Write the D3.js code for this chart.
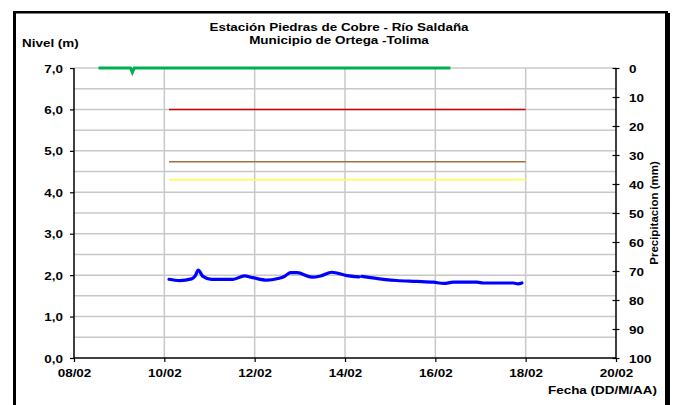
<!DOCTYPE html>
<html>
<head>
<meta charset="utf-8">
<script src="https://cdn.jsdelivr.net/npm/d3@7/dist/d3.min.js"></script>
<style>
  html, body { margin: 0; padding: 0; background: #fff; }
  svg { display: block; }
  text { font-family: "Liberation Sans", Arial, sans-serif; font-weight: bold; fill: #000; }
</style>
</head>
<body>
<svg id="chart" width="676" height="405"></svg>
<script>
// ---------- DATA ----------
const titleLines = ["Estación Piedras de Cobre  - Río Saldaña", "Municipio de Ortega -Tolima"];
const leftAxisTitle = "Nivel (m)";
const rightAxisTitle = "Precipitacion (mm)";
const xAxisTitle = "Fecha (DD/M/AA)";

const xDomain = ["08/02 00:00", "20/02 00:00"];
const xTickDates = ["08/02 00:00", "10/02 00:00", "12/02 00:00", "14/02 00:00", "16/02 00:00", "18/02 00:00", "20/02 00:00"];
const levelTicks = [0, 1, 2, 3, 4, 5, 6, 7];
const levelGrid = [0.5, 1, 1.5, 2, 2.5, 3, 3.5, 4, 4.5, 5, 5.5, 6, 6.5, 7];
const precipTicks = [0, 10, 20, 30, 40, 50, 60, 70, 80, 90, 100];

// water level (m); null = gap in record
const levelTimes = ["10/02 02:30", "10/02 08:00", "10/02 14:30", "10/02 16:30", "10/02 18:00", "10/02 20:30",
  "11/02 01:00", "11/02 12:30", "11/02 18:30", "11/02 23:00", "12/02 06:30", "12/02 12:30", "12/02 15:30",
  "12/02 19:00", "12/02 22:30", "13/02 06:30", "13/02 11:00", "13/02 17:00", "14/02 01:00", "14/02 07:30",
  "14/02 08:15", "14/02 09:00", "14/02 20:30", "15/02 03:30", "15/02 14:00", "15/02 23:00", "16/02 04:30",
  "16/02 09:30", "16/02 22:00", "17/02 01:30", "17/02 17:30", "17/02 20:00", "17/02 22:00"];
const levelValues = [1.90, 1.87, 1.91, 1.99, 2.12, 1.97,
  1.90, 1.90, 1.98, 1.94, 1.88, 1.92, 1.96,
  2.06, 2.06, 1.95, 1.98, 2.07, 1.99, 1.96,
  null, 1.97, 1.90, 1.87, 1.85, 1.83, 1.80,
  1.83, 1.83, 1.81, 1.81, 1.79, 1.81];

// precipitation (mm)
const precipTimes = ["08/02 13:00", "09/02 06:00", "09/02 07:00", "09/02 08:00", "16/02 08:00"];
const precipValues = [0, 0, 1.5, 0, 0];

// alert thresholds (m)
const thresholdTimes = ["10/02 02:30", "18/02 00:00"];
const thresholdNames = ["roja", "naranja", "amarilla"];
const thresholdValues = [6.0, 4.74, 4.30];
const thresholdColors = ["#d00000", "#a0703c", "#ffff40"];

// ---------- CHART ----------
const parse = d3.timeParse("%d/%m %H:%M");
const svg = d3.select("#chart");
const FS = 11.5, SX = 1.17;

const pL = 74, pR = 616, pT = 68, pB = 358;
const x = d3.scaleTime().domain(xDomain.map(parse)).range([pL, pR]);
const yL = d3.scaleLinear().domain([0, 7]).range([pB, pT]);
const yR = d3.scaleLinear().domain([0, 100]).range([pT, pB]);

function label(str, px, py, anchor) {
  return svg.append("text")
    .attr("transform", `translate(${px},${py}) scale(${SX},1)`)
    .attr("text-anchor", anchor)
    .style("font-size", FS + "px")
    .text(str);
}

// frame
svg.append("rect").attr("x", 13).attr("y", 11).attr("width", 3).attr("height", 394).attr("fill", "#000");
svg.append("rect").attr("x", 13).attr("y", 11).attr("width", 655).attr("height", 2.5).attr("fill", "#000");
svg.append("rect").attr("x", 665).attr("y", 13).attr("width", 5).attr("height", 392).attr("fill", "#000");

// grid
svg.append("g").selectAll("line").data(levelGrid).join("line")
  .attr("x1", pL).attr("x2", pR)
  .attr("y1", d => yL(d)).attr("y2", d => yL(d))
  .attr("stroke", "#c8c8c8").attr("stroke-width", 1.5);
svg.append("g").selectAll("line").data(xTickDates.slice(1, -1).map(parse)).join("line")
  .attr("x1", d => x(d)).attr("x2", d => x(d))
  .attr("y1", pT).attr("y2", pB)
  .attr("stroke", "#c8c8c8").attr("stroke-width", 1.5);

// thresholds
thresholdValues.forEach((v, i) => {
  svg.append("line")
    .attr("x1", x(parse(thresholdTimes[0]))).attr("x2", x(parse(thresholdTimes[1])))
    .attr("y1", yL(v)).attr("y2", yL(v))
    .attr("stroke", thresholdColors[i]).attr("stroke-width", 1.5);
});

// precipitation
const precipData = precipTimes.map((t, i) => ({ t: parse(t), v: precipValues[i] }));
svg.append("path").datum(precipData)
  .attr("fill", "none").attr("stroke", "#00b050").attr("stroke-width", 3)
  .attr("d", d3.line().x(d => x(d.t)).y(d => yR(d.v)));

// level
const levelData = levelTimes.map((t, i) => ({ t: parse(t), v: levelValues[i] }));
svg.append("path").datum(levelData)
  .attr("fill", "none").attr("stroke", "#0000ff").attr("stroke-width", 3.2)
  .attr("stroke-linejoin", "round").attr("stroke-linecap", "round")
  .attr("d", d3.line().defined(d => d.v !== null).curve(d3.curveMonotoneX).x(d => x(d.t)).y(d => yL(d.v)));

// axes
const fmtL = d => d.toFixed(1).replace(".", ",");
const gL = svg.append("g").attr("transform", `translate(${pL},0)`)
  .call(d3.axisLeft(yL).tickValues(levelTicks).tickSize(4).tickFormat(fmtL));
gL.selectAll("text").attr("x", null).attr("dy", "0.35em")
  .attr("transform", `translate(-11,0) scale(${SX},1)`);

const gR = svg.append("g").attr("transform", `translate(${pR},0)`)
  .call(d3.axisRight(yR).tickValues(precipTicks).tickSize(3));
gR.selectAll(".tick line").attr("x1", -3.5).attr("x2", 3.5);
gR.selectAll("text").attr("x", null).attr("dy", "0.35em")
  .attr("transform", `translate(13,0) scale(${SX},1)`);

const fmtX = d3.timeFormat("%d/%m");
const gB = svg.append("g").attr("transform", `translate(0,${pB})`)
  .call(d3.axisBottom(x).tickValues(xTickDates.map(parse)).tickSize(4).tickFormat(fmtX));
gB.selectAll("text").attr("y", null).attr("dy", null)
  .attr("transform", `translate(0,19) scale(${SX},1)`);

[gL, gR, gB].forEach(g => {
  g.selectAll("text").style("font-size", FS + "px").attr("fill", "#000");
  g.attr("font-family", null).attr("font-size", null);
  g.select(".domain").attr("stroke", "#000").attr("stroke-width", 1.5);
  g.selectAll(".tick line").attr("stroke", "#000").attr("stroke-width", 1.2);
});
gR.select(".domain").attr("d", `M0,${pT}V${pB}`);
gL.select(".domain").attr("d", `M0,${pT}V${pB}`);
gB.select(".domain").attr("d", `M${pL},0H${pR}`);

// titles
label(titleLines[0], 339, 31, "middle");
label(titleLines[1], 339, 44, "middle");
label(leftAxisTitle, 22, 47, "start");
label(xAxisTitle, 657, 394, "end");
svg.append("text")
  .attr("transform", `translate(658,213) rotate(-90)`)
  .attr("text-anchor", "middle")
  .style("font-size", "11.5px")
  .text(rightAxisTitle);
</script>
</body>
</html>
